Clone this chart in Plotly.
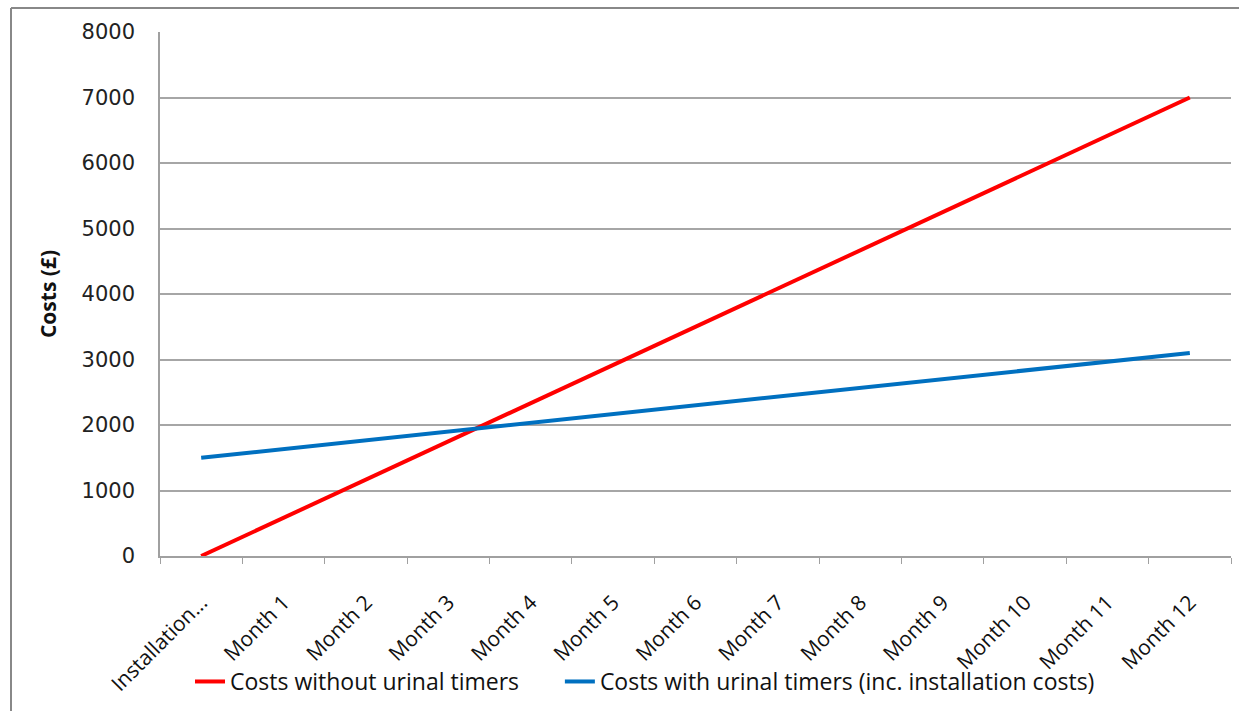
import plotly.graph_objects as go

categories = ["Installation...", "Month 1", "Month 2", "Month 3", "Month 4", "Month 5", "Month 6",
              "Month 7", "Month 8", "Month 9", "Month 10", "Month 11", "Month 12"]
costs_without = [0, 583, 1167, 1750, 2333, 2917, 3500, 4083, 4667, 5250, 5833, 6417, 7000]
costs_with = [1500, 1633, 1767, 1900, 2033, 2167, 2300, 2433, 2567, 2700, 2833, 2967, 3100]
series_names = ["Costs without urinal timers", "Costs with urinal timers (inc. installation costs)"]
y_ticks = [0, 1000, 2000, 3000, 4000, 5000, 6000, 7000, 8000]

fig = go.Figure()
fig.add_trace(go.Scatter(x=categories, y=costs_without, mode="lines",
                         name=series_names[0] + "\u00a0" * 6,
                         line=dict(color="#FF0000", width=4)))
fig.add_trace(go.Scatter(x=categories, y=costs_with, mode="lines", name=series_names[1],
                         line=dict(color="#0070C0", width=4)))

W, H = 1239, 711
L, R, T, B = 160, 8, 32, 153
pw = W - L - R
ph = H - T - B

fig.update_layout(
    width=W, height=H,
    margin=dict(l=L, r=R, t=T, b=B),
    paper_bgcolor="white", plot_bgcolor="white",
    font=dict(family="Open Sans", color="#222222"),
    showlegend=True,
    legend=dict(orientation="h", x=(190 - L) / pw, xanchor="left", y=-(684 - (T + ph)) / ph,
                yanchor="middle", font=dict(size=23, family="Open Sans", color="#111111"),
                tracegroupgap=0, bgcolor="rgba(0,0,0,0)"),
    xaxis=dict(type="category", tickangle=-45, tickfont=dict(size=21, family="Open Sans", color="#111111"),
               showgrid=False, showline=True, linecolor="#A0A0A0", linewidth=2,
               ticks="outside", ticklen=6, tickcolor="#A0A0A0", tickson="boundaries",
               ticklabelstandoff=24,
               range=[-0.5, len(categories) - 0.5]),
    yaxis=dict(range=[0, 8000], tickvals=y_ticks, showgrid=True, gridcolor="#A6A6A6", gridwidth=1.5,
               showline=True, linecolor="#A0A0A0", linewidth=1.5, zeroline=False,
               tickfont=dict(size=21, family="DejaVu Sans", color="#222222"), ticks="",
               ticklabelstandoff=19,
               title=dict(text="<b>Costs (£)</b>", font=dict(size=21, family="Open Sans", color="#111111"),
                          standoff=19)),
)

# outer chart frame
fig.add_shape(type="line", xref="paper", yref="paper",
              x0=(11 - L) / pw, x1=(11 - L) / pw, y0=-(H - T - ph) / ph - 0.05, y1=(T - 8) / ph + 1,
              line=dict(color="#888888", width=2))
fig.add_shape(type="line", xref="paper", yref="paper",
              x0=(11 - L) / pw, x1=1.05, y0=(T - 8) / ph + 1, y1=(T - 8) / ph + 1,
              line=dict(color="#888888", width=2))

fig.write_html("out.html")
